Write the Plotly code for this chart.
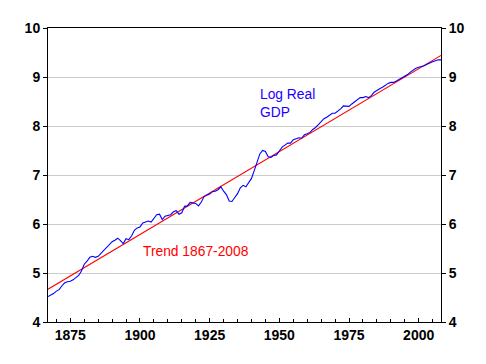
import plotly.graph_objects as go

years = list(range(1867, 2009))
log_real_gdp = [
    4.52, 4.55, 4.58, 4.63, 4.66, 4.74, 4.80, 4.82, 4.83, 4.86,   # 1867-1876
    4.90, 4.95, 5.04, 5.18, 5.24, 5.32, 5.34, 5.32, 5.34, 5.40,   # 1877-1886
    5.45, 5.52, 5.56, 5.64, 5.67, 5.71, 5.66, 5.60, 5.70, 5.68,   # 1887-1896
    5.76, 5.87, 5.92, 5.94, 6.02, 6.04, 6.06, 6.04, 6.12, 6.19,   # 1897-1906
    6.20, 6.09, 6.16, 6.17, 6.19, 6.25, 6.27, 6.20, 6.23, 6.36,   # 1907-1916
    6.37, 6.44, 6.43, 6.42, 6.37, 6.45, 6.56, 6.59, 6.61, 6.66,   # 1917-1926
    6.67, 6.70, 6.76, 6.67, 6.60, 6.47, 6.46, 6.54, 6.62, 6.74,   # 1927-1936
    6.79, 6.76, 6.84, 6.93, 7.09, 7.27, 7.43, 7.50, 7.48, 7.37,   # 1937-1946
    7.36, 7.40, 7.41, 7.49, 7.57, 7.61, 7.65, 7.65, 7.72, 7.74,   # 1947-1956
    7.76, 7.75, 7.82, 7.84, 7.87, 7.93, 7.97, 8.03, 8.09, 8.15,   # 1957-1966
    8.18, 8.23, 8.26, 8.26, 8.30, 8.35, 8.41, 8.40, 8.40, 8.45,   # 1967-1976
    8.50, 8.55, 8.58, 8.58, 8.60, 8.58, 8.62, 8.69, 8.73, 8.76,   # 1977-1986
    8.79, 8.83, 8.87, 8.89, 8.89, 8.92, 8.95, 8.99, 9.02, 9.05,   # 1987-1996
    9.10, 9.14, 9.18, 9.20, 9.21, 9.23, 9.26, 9.29, 9.31, 9.33,   # 1997-2006
    9.35, 9.35,                                                   # 2007-2008
]

trend_years = [1867, 2008]
trend_values = [4.67, 9.44]

y_ticks = [4, 5, 6, 7, 8, 9, 10]
x_ticks = [1875, 1900, 1925, 1950, 1975, 2000]

tick_font = dict(family="Liberation Sans, Arial, sans-serif", size=14, color="black")

fig = go.Figure()
fig.add_trace(go.Scatter(x=trend_years, y=trend_values, mode="lines",
                         line=dict(color="#ff0000", width=1.1), showlegend=False))
fig.add_trace(go.Scatter(x=years, y=log_real_gdp, mode="lines",
                         line=dict(color="#0000ff", width=1.1), showlegend=False))
# invisible trace for right axis
fig.add_trace(go.Scatter(x=[None], y=[None], yaxis="y2", showlegend=False, hoverinfo="skip"))

fig.update_layout(
    width=470, height=348,
    margin=dict(l=40, r=37, t=20, b=34),
    paper_bgcolor="white", plot_bgcolor="white",
    xaxis=dict(range=[1867, 2008], tickvals=x_ticks,
               ticktext=[f"<b>{v}</b>" for v in x_ticks],
               ticks="inside", ticklen=4, tickcolor="black",
               minor=dict(dtick=5, tick0=1865, ticks="inside", ticklen=3, tickcolor="black"),
               showline=True, linecolor="black", linewidth=1, mirror=True,
               showgrid=False, zeroline=False, tickfont=tick_font),
    yaxis=dict(range=[4, 10], tickvals=y_ticks,
               ticktext=[f"<b>{v}</b>" for v in y_ticks],
               ticks="outside", ticklen=4, tickcolor="black",
               showline=True, linecolor="black", linewidth=1,
               showgrid=True, gridcolor="#cccccc", gridwidth=1, zeroline=False,
               tickfont=tick_font),
    yaxis2=dict(range=[4, 10], tickvals=y_ticks, overlaying="y", side="right",
                ticktext=[f"<b>{v}</b>" for v in y_ticks],
                ticks="outside", ticklen=4, tickcolor="black",
                showline=True, linecolor="black", linewidth=1,
                showgrid=False, zeroline=False, tickfont=tick_font),
    annotations=[
        dict(x=1942.3, y=8.46, xref="x", yref="y", text="Log Real<br>GDP",
             showarrow=False, xanchor="left", align="left",
             font=dict(family="Liberation Sans, Arial, sans-serif", size=13.8, color="#1a00ff")),
        dict(x=1900.2, y=5.43, xref="x", yref="y", text="Trend 1867-2008",
             showarrow=False, xanchor="left", align="left",
             font=dict(family="Liberation Sans, Arial, sans-serif", size=13.8, color="#ff0000")),
    ],
)

fig.write_html("out.html")
